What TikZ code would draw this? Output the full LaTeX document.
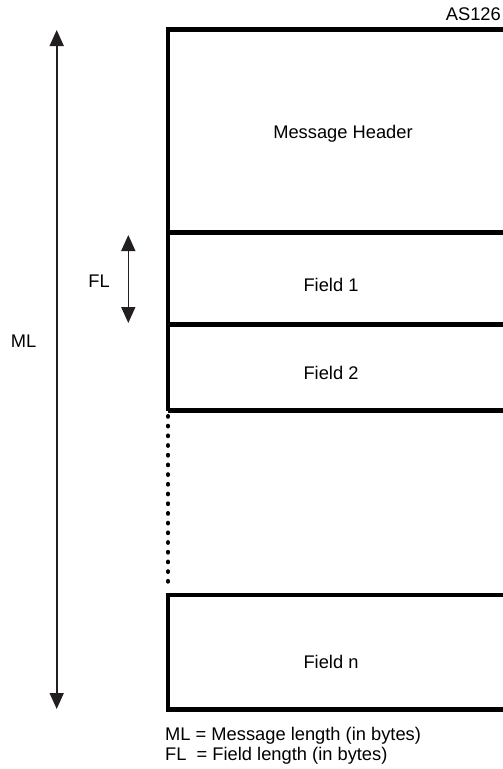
\documentclass[tikz,border=0pt]{standalone}
\usepackage{fontspec}
\setmainfont{Liberation Sans}
\usetikzlibrary{arrows.meta}
\definecolor{dimgray}{HTML}{231F20}

\begin{document}
\begin{tikzpicture}[x=1pt, y=-1pt, >={Triangle[length=16pt, width=14pt]},
  lbl/.style={font=\fontsize{18.3}{20}\selectfont, inner sep=0pt},
  rule/.style={line width=4.5pt, line join=miter},
  dim/.style={<->, line width=1.6pt, draw=dimgray}]
\useasboundingbox (0,0) rectangle (503,769);
\draw[rule] (503,29.5) -- (168,29.5) -- (168,410.5);
\draw[rule] (168,232.5) -- (503,232.5);
\draw[rule] (168,324.5) -- (503,324.5);
\draw[rule] (168,410.5) -- (503,410.5);
\draw[line width=4pt, line cap=round, dash pattern=on 0.8pt off 8.9pt] (168,416) -- (168,590);
\draw[rule] (503,595) -- (168,595) -- (168,709.5) -- (503,709.5);
\node[lbl, anchor=base east] (as) at (501,20) {AS126};
\node[lbl, anchor=base] (hdr) at (343,138) {Message Header};
\node[lbl] (f1) at (331,285) {Field 1};
\node[lbl] (f2) at (331,373) {Field 2};
\node[lbl] (fn) at (331,662) {Field n};
\node[lbl] (ml) at (23.5,341) {ML};
\node[lbl] (fl) at (99,281) {FL};
\coordinate (mltop) at (56.7,30);
\coordinate (mlbot) at (56.7,709);
\coordinate (fltop) at (128.3,235);
\coordinate (flbot) at (128.3,323);
\draw[dim] (mltop) -- (mlbot);
\draw[dim] (fltop) -- (flbot);
\node[lbl, anchor=base west] (keyml) at (165,740) {ML = Message length (in bytes)};
\node[lbl, anchor=base west] (keyfl) at (165,760) {FL\ \ = Field length (in bytes)};
\end{tikzpicture}
\end{document}
